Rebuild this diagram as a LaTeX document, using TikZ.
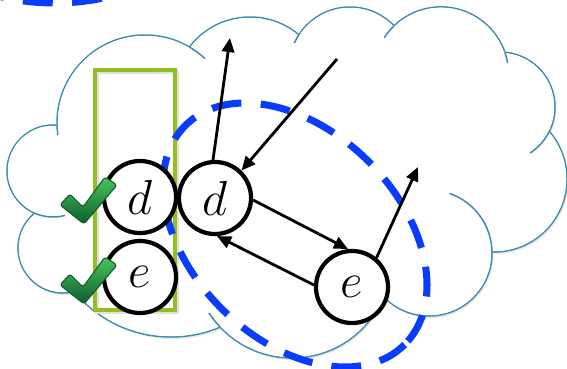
\documentclass[tikz,border=0pt]{standalone}
\usepackage{fix-cm}
\usetikzlibrary{arrows.meta}
\definecolor{cloudteal}{HTML}{3A8CAB}
\definecolor{dashblue}{HTML}{0A3CFF}
\definecolor{boxgreen}{HTML}{92C01F}
\definecolor{tickgreen}{HTML}{4CC45A}
\definecolor{tickdark}{HTML}{0C5E30}

\begin{document}
\begin{tikzpicture}[x=0.02cm,y=-0.02cm,
  state/.style={circle,draw=black,line width=2.4pt,fill=white,
    minimum size=41pt,inner sep=0pt,font=\fontsize{28}{32}\selectfont},
  link/.style={-{Triangle[length=8pt,width=7pt]},line width=1.6pt},
  cloudline/.style={draw=cloudteal,line width=0.85pt},
  region/.style={draw=dashblue,line width=4pt,dash pattern=on 17pt off 11pt},
  selbox/.style={draw=boxgreen,line width=2.3pt},
  okmark/.style={top color=tickgreen,bottom color=tickdark,draw=tickdark,
    line width=0.6pt,rounded corners=1.5pt}
]
  \clip (0,0) rectangle (567,368);
  % cloud, as a union of bumps
  \def\bumps{53/171/46, 63/248/45, 171/211/126, 145/123/88, 250/93/76,
    350/68/61, 441/74.5/67.6, 500/107/55, 494/179/73, 429/253/63, 292/259/99}
  \foreach \cx/\cy/\r in \bumps
    \fill[black!9] (\cx+1.5,\cy+2) circle[radius=\r];
  \foreach \cx/\cy/\r in \bumps
    \draw[cloudline] (\cx,\cy) circle[radius=\r];
  \foreach \cx/\cy/\r in \bumps
    \fill[white] (\cx,\cy) circle[radius=\r-0.8];
  \fill[white] (57,125) -- (190,47) -- (299,35) -- (394,26) -- (505,52)
    -- (549,131) -- (492,252) -- (383,297) -- (220,327) -- (74,292)
    -- (35,213) -- cycle;
  \foreach \cx/\cy/\r/\a/\b in {145/123/88/178.6/172, 145/123/88/-59.7/-47,
      350/68/61/213/204, 441/74.5/67.6/225.8/213, 441/74.5/67.6/-19.2/-10,
      500/107/55/26.2/57, 429/253/63/-0.9/-71, 292/259/99/136.6/147,
      53/171/46/113.6/75}
    \draw[cloudline] (\cx,\cy) ++(\a:\r) arc[start angle=\a,end angle=\b,radius=\r];

  \draw[black!12,line width=2.3pt] (97,72) rectangle (177,312);
  \draw[selbox] (95,70) rectangle (175,310);

  \draw[region] (55,-57) ellipse[x radius=120,y radius=60];
  \draw[region,rotate around={-45:(295,235)}] (295,235)
    ellipse[x radius=155,y radius=104];

  \node[state] (d1) at (140,197) {$d$};
  \node[state] (e1) at (140,277) {$e$};
  \node[state] (d2) at (215,198) {$d$};
  \node[state] (e2) at (352,287) {$e$};
  \coordinate (upA) at (230,38);
  \coordinate (srcB) at (337,59);
  \coordinate (upC) at (418,167);

  \draw[link] (d2.93) -- (upA);
  \draw[link] (srcB) -- (d2.46);
  \draw[link] (d2.-3) -- (e2.96);
  \draw[link] (e2.177) -- (d2.-87);
  \draw[link] (e2.50) -- (upC);

  \foreach \cy in {224,304}
    \shadedraw[okmark,shift={(84,\cy)}] (-24,-19) -- (-14,-30) -- (-1,-17)
      -- (21,-47) -- (33,-39) -- (0,0) -- cycle;
\end{tikzpicture}
\end{document}
